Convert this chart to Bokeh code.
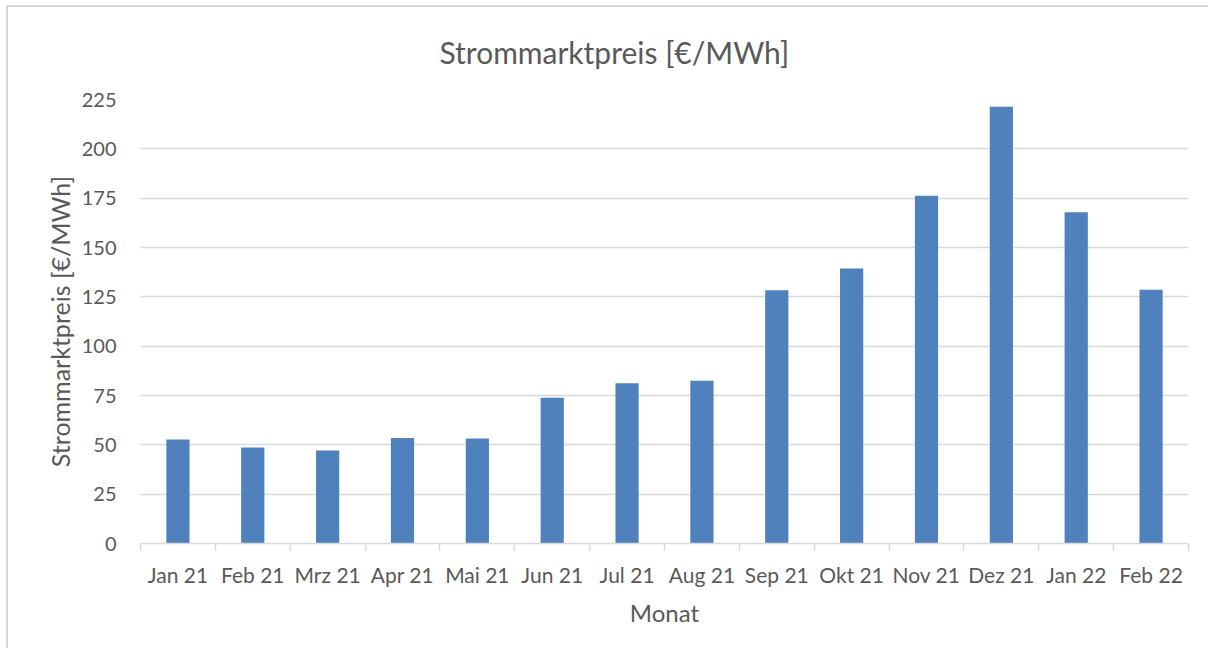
from bokeh.plotting import figure
from bokeh.models import Range1d, FixedTicker, ColumnDataSource
from bokeh.embed import file_html
from bokeh.resources import INLINE

months = ["Jan 21", "Feb 21", "Mrz 21", "Apr 21", "Mai 21", "Jun 21", "Jul 21",
          "Aug 21", "Sep 21", "Okt 21", "Nov 21", "Dez 21", "Jan 22", "Feb 22"]
prices = [52.7, 48.6, 47.1, 53.5, 53.2, 73.9, 81.2, 82.5, 128.3, 139.4, 176.2, 221.3, 167.8, 128.6]
y_ticks = [0, 25, 50, 75, 100, 125, 150, 175, 200, 225]

FONT = "Lato"
TXT = "#595959"
GRID = "#D9D9D9"
BAR = "#4F81BD"

n = len(months)
centers = [i + 0.5 for i in range(n)]
src = ColumnDataSource(dict(x=centers, y=prices, m=months))

p = figure(width=1208, height=648, output_backend="svg", toolbar_location=None,
           x_range=Range1d(0, n), y_range=Range1d(0, 225),
           title="Strommarktpreis [€/MWh]",
           min_border_left=140, min_border_right=20, min_border_top=99, min_border_bottom=105)

# light chart-area frame (top and left edges visible, as in the reference)
p.styles = {
    "background-color": "white",
    "background-image": "linear-gradient(#D9D9D9, #D9D9D9), linear-gradient(#D9D9D9, #D9D9D9)",
    "background-size": "100% 2px, 2px 100%",
    "background-position": "6px 5px, 6px 5px",
    "background-repeat": "no-repeat",
}
p.border_fill_alpha = 0

p.vbar(x="x", top="y", width=0.31, source=src, fill_color=BAR, line_color=None)

p.title.align = "left"
p.title.offset = 299
p.title.text_font = FONT
p.title.text_font_size = "30px"
p.title.text_font_style = "normal"
p.title.text_color = TXT
p.title.standoff = 60

p.outline_line_color = None
p.background_fill_color = "white"

# y axis
p.yaxis.ticker = FixedTicker(ticks=y_ticks)
p.yaxis.axis_line_color = None
p.yaxis.major_tick_line_color = None
p.yaxis.minor_tick_line_color = None
p.yaxis.major_tick_out = 0
p.yaxis.major_label_standoff = 24
p.yaxis.major_label_text_font = FONT
p.yaxis.major_label_text_font_size = "20px"
p.yaxis.major_label_text_color = TXT
p.yaxis.axis_label = "Strommarktpreis [€/MWh]"
p.yaxis.axis_label_text_font = FONT
p.yaxis.axis_label_text_font_size = "25px"
p.yaxis.axis_label_text_font_style = "normal"
p.yaxis.axis_label_text_color = TXT
p.yaxis.axis_label_standoff = 4

p.ygrid.ticker = FixedTicker(ticks=y_ticks)
p.ygrid.grid_line_color = GRID
p.ygrid.grid_line_width = 1.5
p.xgrid.grid_line_color = None

# x axis: labels at category centres, ticks at category boundaries
p.xaxis.ticker = FixedTicker(ticks=centers, minor_ticks=list(range(n + 1)))
p.xaxis.major_label_overrides = {c: m for c, m in zip(centers, months)}
p.xaxis.axis_line_color = GRID
p.xaxis.axis_line_width = 1.5
p.xaxis.major_tick_line_color = None
p.xaxis.major_tick_out = 0
p.xaxis.major_tick_in = 0
p.xaxis.minor_tick_line_color = GRID
p.xaxis.minor_tick_line_width = 1.5
p.xaxis.minor_tick_out = 7
p.xaxis.minor_tick_in = 0
p.xaxis.major_label_standoff = 11
p.xaxis.major_label_text_font = FONT
p.xaxis.major_label_text_font_size = "21px"
p.xaxis.major_label_text_color = TXT
p.xaxis.axis_label = "Monat"
p.xaxis.axis_label_text_font = FONT
p.xaxis.axis_label_text_font_size = "24px"
p.xaxis.axis_label_text_font_style = "normal"
p.xaxis.axis_label_text_color = TXT
p.xaxis.axis_label_standoff = 8

open("out.html", "w").write(file_html(p, INLINE))
